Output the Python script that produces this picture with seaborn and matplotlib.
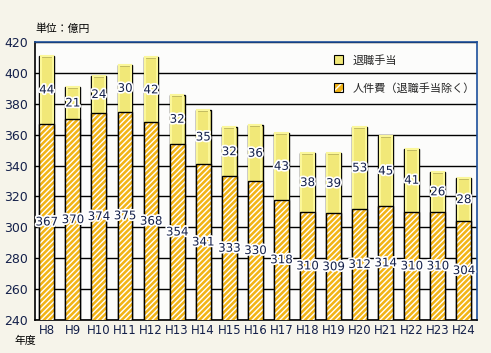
import matplotlib

matplotlib.use("Agg")
import matplotlib.pyplot as plt
import matplotlib.patheffects as pe
from matplotlib.patches import Patch
from matplotlib.legend_handler import HandlerTuple
import numpy as np
import pandas as pd
import seaborn as sns

years = ["H8", "H9", "H10", "H11", "H12", "H13", "H14", "H15", "H16",
         "H17", "H18", "H19", "H20", "H21", "H22", "H23", "H24"]
personnel = [367, 370, 374, 375, 368, 354, 341, 333, 330, 318, 310, 309, 312, 314, 310, 310, 304]
retirement = [44, 21, 24, 30, 42, 32, 35, 32, 36, 43, 38, 39, 53, 45, 41, 26, 28]

NAVY = "#14204a"
BLUE_FRAME = "#1c4f9c"
ORANGE = "#f2b416"
YELLOW = "#f1e878"
YELLOW_RIM = "#fbf79a"
YMIN = 240

df = pd.DataFrame({"year": years, "personnel": personnel, "retirement": retirement})
df["total"] = df["personnel"] + df["retirement"]

sns.set_theme(style="white")
plt.rcParams["font.family"] = ["Noto Sans CJK JP", "DejaVu Sans"]
plt.rcParams["hatch.linewidth"] = 1.0

fig = plt.figure(figsize=(4.91, 3.53), dpi=100, facecolor="#f6f4ea")
ax = fig.add_axes([0.0713, 0.0935, 0.900, 0.7875])
ax.set_facecolor("#fcfcfb")
ax.grid(axis="y", color="black", lw=1.0)
ax.set_axisbelow(True)

W = 0.57
# totals (retirement on top)
sns.barplot(data=df, x="year", y="total", color=YELLOW, saturation=1, width=W,
            edgecolor="black", linewidth=1.0, ax=ax, zorder=2)
# inner light rim of the retirement part
sns.barplot(data=df, x="year", y="total", color=YELLOW, saturation=1, width=W - 0.1,
            edgecolor=YELLOW_RIM, linewidth=1.5, fill=False, ax=ax, zorder=2.1)
# personnel with white hatch
sns.barplot(data=df, x="year", y="personnel", color=ORANGE, saturation=1, width=W,
            edgecolor="white", linewidth=0, hatch="//////", ax=ax, zorder=3)
sns.barplot(data=df, x="year", y="personnel", width=W, fill=False,
            edgecolor="black", linewidth=1.0, ax=ax, zorder=4)

halo = [pe.withStroke(linewidth=2.5, foreground="white")]
for i, row in df.iterrows():
    ax.text(i, (YMIN + row["personnel"]) / 2, str(row["personnel"]), ha="center", va="center",
            fontsize=8.5, color=NAVY, path_effects=halo, zorder=6, family="DejaVu Sans")
    ax.text(i, row["personnel"] + row["retirement"] / 2, str(row["retirement"]), ha="center",
            va="center", fontsize=8.5, color=NAVY, path_effects=halo, zorder=6, family="DejaVu Sans")

ax.set_ylim(YMIN, 420)
ax.set_xlim(-0.45, len(years) - 0.52)
ax.set_yticks(np.arange(240, 421, 20))
ax.set_xlabel("")
ax.set_ylabel("")
ax.set_xticks(np.arange(len(years)) + 0.5, minor=True)
ax.tick_params(axis="x", which="major", length=0, labelsize=8.5, labelcolor=NAVY, pad=3)
ax.tick_params(axis="x", which="minor", length=4, direction="in", color="black", width=1)
ax.tick_params(axis="y", length=0, labelsize=9, labelcolor=NAVY, pad=5)
for lbl in ax.get_xticklabels() + ax.get_yticklabels():
    lbl.set_family("DejaVu Sans")

for side in ["left", "bottom"]:
    ax.spines[side].set_color("black")
    ax.spines[side].set_linewidth(1.2)
for side in ["top", "right"]:
    ax.spines[side].set_color(BLUE_FRAME)
    ax.spines[side].set_linewidth(1.2)

h_ret = Patch(facecolor=YELLOW, edgecolor="black", linewidth=0.8)
h_per = (Patch(facecolor=ORANGE, edgecolor="white", hatch="////", linewidth=0),
         Patch(fill=False, edgecolor="black", linewidth=0.8))
ax.legend([h_ret, h_per], ["退職手当", "人件費（退職手当除く）"], loc="upper left",
          handler_map={tuple: HandlerTuple(ndivide=1)},
          bbox_to_anchor=(0.655, 0.99), frameon=False, fontsize=8,
          handlelength=0.8, handleheight=0.8, handletextpad=0.8, labelspacing=1.55)

fig.text(0.073, 0.92, "単位：億円", fontsize=7.8, color="black", va="center")
fig.text(0.03, 0.035, "年度", fontsize=7.8, color="black", va="center")

fig.savefig("out.png", dpi=100, facecolor=fig.get_facecolor())
